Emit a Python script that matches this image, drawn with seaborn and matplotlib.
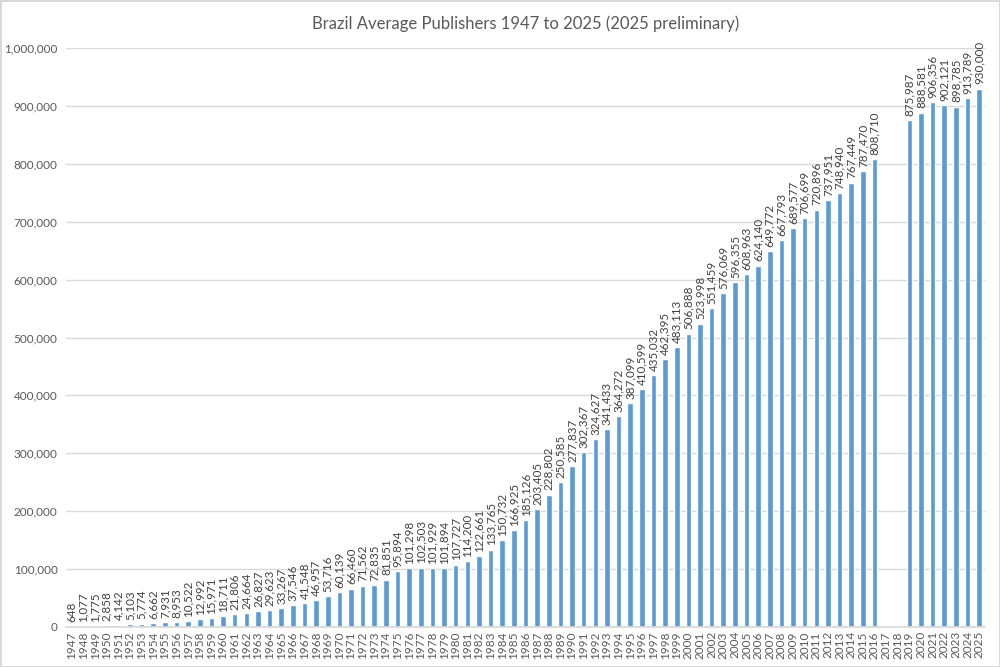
import matplotlib
matplotlib.use("Agg")
import matplotlib.pyplot as plt
import seaborn as sns
import pandas as pd

# Years shown on the axis (2017 and 2018 have no data)
all_years = [str(y) for y in range(1947, 2026)]

years = [str(y) for y in range(1947, 2017)] + [str(y) for y in range(2019, 2026)]
publishers = [
    648, 1077, 1775, 2858, 4142, 5103, 5774, 6662, 7931, 8953,
    10522, 12992, 15971, 18711, 21806, 24664, 26827, 29623, 33267, 37546,
    41548, 46957, 53716, 60139, 66460, 71562, 72835, 81851, 95894, 101298,
    102503, 101929, 101894, 107727, 114200, 122661, 133765, 150732, 166925, 185126,
    203405, 228802, 250585, 277837, 302367, 324627, 341433, 364272, 387099, 410599,
    435032, 462395, 483113, 506888, 523998, 551459, 576069, 596355, 608963, 624140,
    649772, 667793, 689577, 706699, 720896, 737951, 748940, 767449, 787470, 808710,
    875987, 888581, 906356, 902121, 898785, 913789, 930000,
]

df = pd.DataFrame({"Year": years, "Publishers": publishers})

sns.set_theme(style="white")
plt.rcParams["font.family"] = ["Lato", "DejaVu Sans"]

grey = "#595959"
fig = plt.figure(figsize=(10, 6.67), dpi=100, edgecolor="#d9d9d9", linewidth=2)
ax = fig.add_axes([0.066, 0.06, 0.919, 0.868])

sns.barplot(data=df, x="Year", y="Publishers", order=all_years,
            color="#5b9bd5", saturation=1, width=0.48, ax=ax)

for c in ax.containers:
    ax.bar_label(c, fmt="{:,.0f}", rotation=90, padding=3, fontsize=8.4, color="#404040")

ax.set_ylim(0, 1000000)
ax.set_yticks(range(0, 1000001, 100000))
ax.yaxis.set_major_formatter(matplotlib.ticker.FuncFormatter(lambda v, p: f"{v:,.0f}"))
ax.grid(axis="y", color="#d9d9d9", linewidth=1)
ax.set_axisbelow(True)
for s in ["top", "right", "left"]:
    ax.spines[s].set_visible(False)
ax.spines["bottom"].set_color("#d9d9d9")
ax.tick_params(axis="x", rotation=90, labelsize=8.5, labelcolor=grey, length=0, pad=3)
ax.tick_params(axis="y", labelsize=8.5, labelcolor=grey, length=0, pad=6)
ax.set_xlabel("")
ax.set_ylabel("")
ax.set_title("Brazil Average Publishers 1947 to 2025 (2025 preliminary)",
             fontsize=12, color=grey, pad=14)

fig.savefig("out.png", dpi=100, edgecolor=fig.get_edgecolor())
